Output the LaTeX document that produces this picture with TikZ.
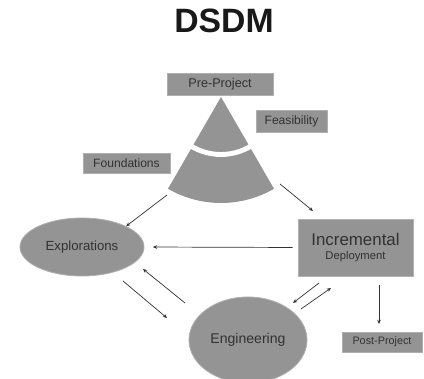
\documentclass[tikz,border=0pt]{standalone}
\usepackage{fontspec}
\setmainfont{Liberation Sans}
\usetikzlibrary{shapes.geometric,arrows.meta}
\definecolor{phasegray}{RGB}{148,148,148}
\definecolor{ink}{RGB}{50,50,50}

\begin{document}
\begin{tikzpicture}[x=0.025cm,y=-0.025cm,
  phase/.style={draw=phasegray!75!white, line width=0.6pt, fill=phasegray, text=ink, inner sep=0pt},
  flow/.style={draw=ink, line width=0.5pt, -{Stealth[length=3pt,width=2.6pt]}}]
\useasboundingbox (0,0) rectangle (424,379);

% Title
\node[font=\bfseries\fontsize{24}{24}\selectfont, text=black!90] (title) at (224,21) {DSDM};

% The cone, cut in two
\fill[phasegray] (221,97) -- ++(60:106) arc[start angle=60, end angle=120, radius=106] -- cycle;
\draw[white, line width=3.5pt] (221,97) ++(53:57.5) arc[start angle=53, end angle=127, radius=57.5];
\coordinate (coneL) at (167,195);
\coordinate (coneR) at (280,184);

% Phases
\node[phase, minimum width=2.65cm, minimum height=0.55cm, font=\fontsize{9}{10}\selectfont] (pre) at (220,84) {Pre-Project};
\node[phase, minimum width=1.775cm, minimum height=0.55cm, font=\fontsize{8.6}{10}\selectfont] (feas) at (291.5,121) {Feasibility};
\node[phase, minimum width=2.175cm, minimum height=0.5cm, font=\fontsize{8.6}{10}\selectfont] (found) at (126.5,163) {Foundations};

\node[phase, ellipse, minimum width=3.1cm, minimum height=1.45cm, font=\fontsize{9.4}{10}\selectfont] (expl) at (82,247) {Explorations};
\node[phase, minimum width=2.875cm, minimum height=1.425cm, align=center] (incr) at (355.5,247.5)
  {\fontsize{12}{13}\selectfont Incremental\\[-2pt]\fontsize{8}{9}\selectfont Deployment};
\node[phase, ellipse, minimum width=2.95cm, minimum height=2.15cm, font=\fontsize{10}{11}\selectfont] (eng) at (248,340) {Engineering};
\node[phase, minimum width=2cm, minimum height=0.5cm, font=\fontsize{7.7}{9}\selectfont] (post) at (382,342) {Post-Project};

% Free ends of the connectors
\coordinate (incrTop) at (313,211);
\coordinate (engOut) at (185,303);
\coordinate (explIn) at (143,269);
\coordinate (explOut) at (123,281);
\coordinate (engIn) at (167,318);
\coordinate (incrOut) at (319,283);
\coordinate (engIn2) at (293,303);
\coordinate (engOut2) at (301,309);
\coordinate (incrIn) at (331,288);
\coordinate (postTop) at (379,285);
\coordinate (postIn) at (379,324);

% Connectors
\draw[flow] (coneL) -- (expl.north east);
\draw[flow] (coneR) -- (incrTop);
\draw[flow, shorten <=3.5pt, shorten >=6pt] (incr.west) -- (expl.east);
\draw[flow] (engOut) -- (explIn);
\draw[flow] (explOut) -- (engIn);
\draw[flow] (incrOut) -- (engIn2);
\draw[flow] (engOut2) -- (incrIn);
\draw[flow] (postTop) -- (postIn);

\end{tikzpicture}
\end{document}
